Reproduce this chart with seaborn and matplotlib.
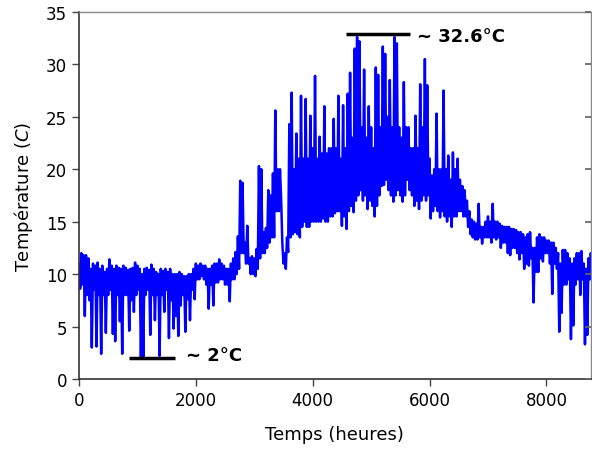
import numpy as np
import pandas as pd
import matplotlib
matplotlib.use("Agg")
import matplotlib.pyplot as plt
import seaborn as sns

# Hourly record summarised per 40-hour window: peak and trough
window_hours = 40
peaks = [
    11.0, 12.0, 11.8, 11.8, 11.5, 10.5, 11.0, 10.8, 11.1, 10.5,
    10.8, 10.2, 10.5, 11.4, 10.8, 10.5, 10.8, 10.6, 10.5, 10.8,
    10.6, 10.4, 10.5, 10.6, 11.1, 10.8, 10.5, 10.0, 10.5, 10.6,
    10.4, 10.9, 10.5, 10.2, 10.0, 10.5, 10.3, 10.5, 10.2, 10.5,
    10.0, 10.0, 10.0, 10.2, 10.0, 9.8, 9.8, 10.0, 10.0, 10.5,
    11.0, 10.8, 11.0, 10.8, 10.8, 10.5, 10.5, 10.8, 11.0, 11.0,
    11.4, 11.0, 10.8, 10.5, 10.5, 11.0, 11.5, 12.1, 13.6, 18.9,
    18.7, 13.0, 14.6, 11.5, 11.7, 11.5, 12.4, 20.3, 20.0, 14.0,
    14.4, 18.0, 17.5, 19.6, 25.6, 20.0, 20.0, 13.0, 12.0, 13.5,
    24.3, 27.3, 20.0, 23.4, 21.0, 27.0, 21.0, 26.7, 21.0, 25.1,
    22.0, 28.9, 21.0, 23.1, 21.5, 26.0, 21.5, 22.0, 22.0, 24.8,
    22.0, 27.0, 21.0, 26.1, 22.0, 27.2, 29.2, 23.0, 31.5, 32.6,
    32.2, 24.0, 29.5, 23.0, 26.0, 24.0, 22.0, 29.7, 29.0, 24.0,
    31.7, 31.0, 25.0, 28.5, 24.0, 32.6, 32.0, 24.0, 23.0, 28.3,
    24.0, 24.0, 22.0, 22.0, 25.1, 22.0, 28.1, 24.0, 30.5, 28.0,
    21.0, 19.4, 20.0, 25.3, 20.0, 20.0, 27.5, 20.0, 21.3, 19.0,
    21.6, 20.0, 21.0, 19.0, 18.4, 18.0, 17.0, 16.0, 15.2, 15.0,
    14.8, 16.7, 14.5, 14.5, 15.0, 15.5, 15.0, 16.7, 15.0, 15.0,
    14.8, 14.6, 14.5, 14.5, 14.5, 14.3, 14.3, 14.2, 14.0, 14.0,
    13.8, 13.5, 13.8, 14.0, 12.5, 12.5, 13.5, 13.8, 13.5, 13.5,
    13.2, 13.2, 13.0, 13.0, 12.5, 12.0, 11.0, 12.3, 12.3, 12.0,
    11.5, 11.0, 11.5, 12.0, 12.0, 12.2, 11.0, 10.5, 11.5, 12.0,
]
troughs = [
    8.6, 9.0, 6.0, 8.0, 7.5, 3.0, 8.5, 3.1, 8.0, 2.4,
    8.0, 4.4, 8.0, 8.5, 4.3, 3.6, 8.0, 5.5, 2.4, 8.0,
    8.0, 4.6, 7.5, 6.4, 8.0, 8.5, 2.1, 2.0, 8.0, 8.5,
    4.2, 8.0, 5.6, 8.0, 2.2, 8.0, 6.4, 8.5, 3.9, 7.5,
    4.8, 6.0, 4.1, 7.0, 8.0, 4.5, 7.6, 5.6, 8.5, 7.6,
    9.5, 9.5, 9.8, 9.5, 9.0, 6.7, 9.0, 7.0, 9.2, 9.2,
    9.5, 9.5, 9.0, 9.0, 7.4, 9.5, 9.5, 10.0, 10.5, 12.0,
    12.0, 11.0, 11.0, 10.0, 10.0, 9.8, 10.5, 11.5, 12.0, 12.0,
    12.5, 13.0, 13.5, 13.5, 16.0, 16.0, 17.2, 11.0, 10.5, 12.1,
    13.5, 13.8, 14.0, 13.8, 13.5, 14.5, 15.0, 14.5, 14.5, 15.0,
    15.0, 15.0, 15.0, 15.0, 15.3, 15.0, 15.0, 15.5, 15.5, 15.8,
    16.0, 16.0, 14.6, 15.5, 14.3, 16.0, 16.5, 15.9, 17.0, 17.5,
    18.0, 17.0, 17.5, 16.2, 17.0, 16.5, 15.5, 16.5, 17.5, 18.4,
    18.5, 19.0, 18.0, 17.5, 16.9, 17.5, 18.0, 17.5, 16.9, 17.5,
    19.0, 18.0, 17.5, 16.5, 17.0, 16.2, 17.0, 17.5, 17.0, 17.5,
    15.3, 16.0, 16.5, 16.0, 15.4, 16.0, 15.5, 15.0, 15.5, 14.5,
    15.5, 15.5, 16.0, 16.0, 15.5, 15.5, 14.5, 13.8, 13.5, 13.3,
    13.3, 13.5, 12.9, 13.5, 13.5, 13.5, 13.0, 13.5, 13.3, 13.5,
    12.5, 13.0, 13.0, 12.0, 11.8, 12.5, 12.5, 12.0, 11.4, 12.0,
    10.5, 11.0, 10.8, 11.5, 7.3, 10.2, 10.2, 11.5, 11.2, 12.0,
    12.0, 11.0, 8.1, 11.0, 10.5, 4.5, 6.3, 9.0, 9.0, 9.5,
    3.8, 5.1, 9.0, 9.5, 8.0, 9.5, 3.3, 4.2, 9.5, 10.0,
]

min_label = "~ 2°C"
max_label = "~ 32.6°C"
min_value = 2.0
max_value = 32.9
min_span = (855, 1640)
max_span = (4570, 5660)

# interleave peak/trough of each window into one hourly-ordered trace
window_start = np.arange(len(peaks)) * window_hours
hours = np.ravel(np.column_stack([window_start, window_start + window_hours / 2]))
temps = np.ravel(np.column_stack([peaks, troughs]))
df = pd.DataFrame({"Temps (heures)": hours, "Température": temps})

sns.set_theme(style="white")
plt.rcParams["font.family"] = ["DejaVu Sans"]

fig = plt.figure(figsize=(5.92, 4.60), dpi=100)
ax = fig.add_axes([0.1334, 0.174, 0.8646, 0.798])

sns.lineplot(data=df, x="Temps (heures)", y="Température", ax=ax,
             color="#0000ff", linewidth=1.8, estimator=None, sort=False)

ax.set_xlim(0, 8760)
ax.set_ylim(0, 35)
ax.set_xticks([0, 2000, 4000, 6000, 8000])
ax.set_yticks(range(0, 36, 5))
ax.set_xlabel("Temps (heures)", fontsize=13, labelpad=12, color="black")
ax.set_ylabel("Température ($\\it{C}$)", fontsize=13, labelpad=8, color="black")
ax.tick_params(axis="both", labelsize=12, direction="out", length=5,
               width=1, color="#444444", labelcolor="black",
               bottom=True, left=True)

for side in ["left", "bottom"]:
    ax.spines[side].set_color("#333333")
    ax.spines[side].set_linewidth(1.2)
for side in ["top", "right"]:
    ax.spines[side].set_color("#888888")
    ax.spines[side].set_linewidth(1.0)

ax2 = ax.twinx()
ax2.set_ylim(0, 35)
ax2.set_yticks(range(0, 36, 5))
ax2.tick_params(axis="y", direction="in", length=4, color="#666666",
                labelright=False, right=True)
ax2.grid(False)
for s in ax2.spines.values():
    s.set_visible(False)

ax.plot(min_span, [min_value, min_value], color="black", linewidth=2.5,
        solid_capstyle="butt")
ax.plot(max_span, [max_value, max_value], color="black", linewidth=2.5,
        solid_capstyle="butt")
ax.text(1840, min_value + 0.25, min_label, fontsize=13, fontweight="bold",
        va="center", ha="left", color="black")
ax.text(5780, max_value - 0.2, max_label, fontsize=13, fontweight="bold",
        va="center", ha="left", color="black")

fig.savefig("out.png", dpi=100)
